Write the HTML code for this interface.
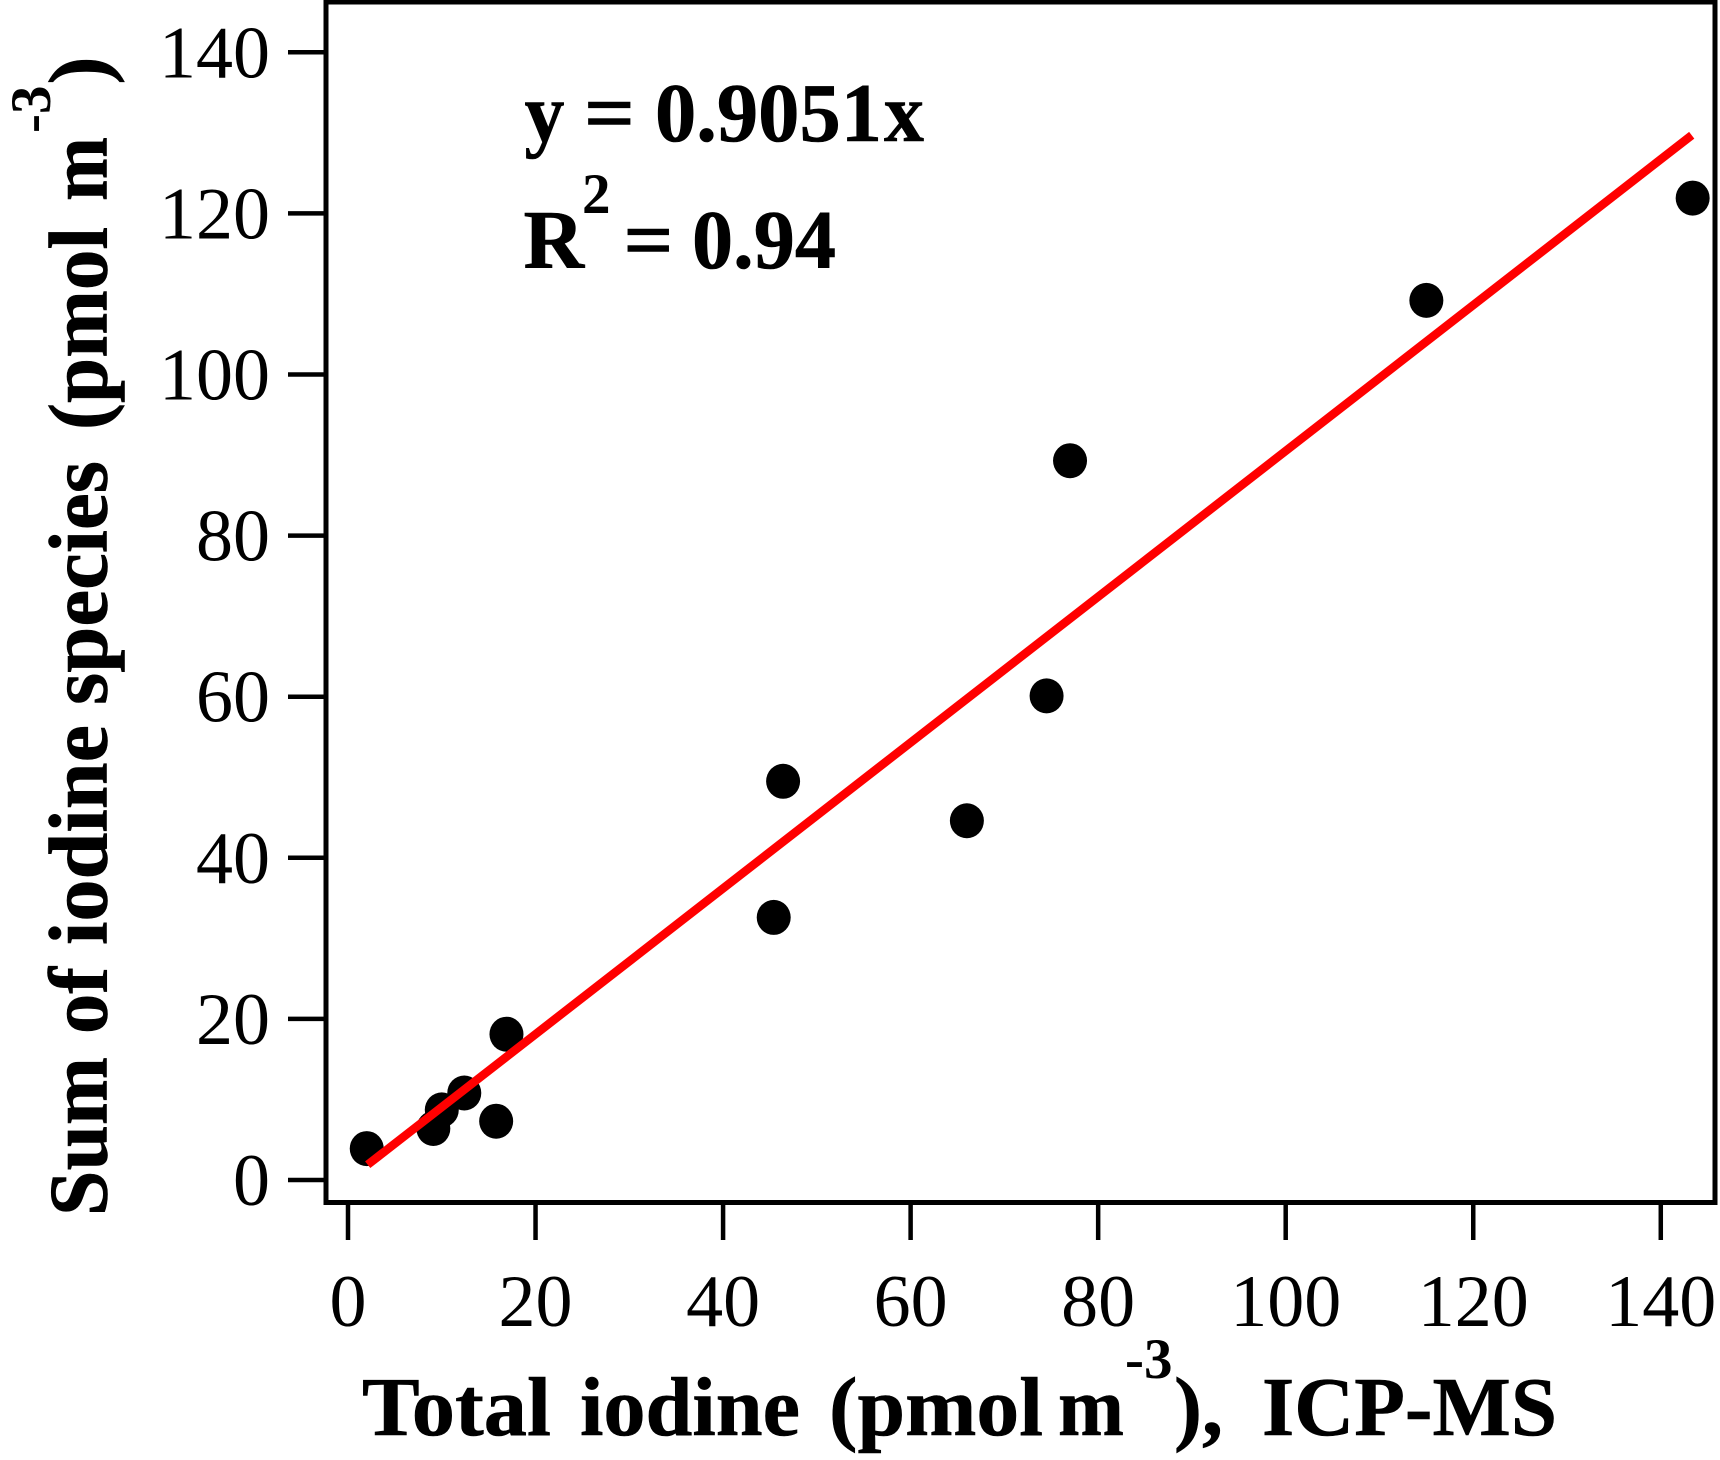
<!DOCTYPE html>
<html lang="en">
<head>
<meta charset="utf-8">
<title>Sum of iodine species vs total iodine</title>
<style>
html,body{margin:0;padding:0;background:#fff;width:1720px;height:1460px;overflow:hidden}
svg{display:block}
text{font-family:"Liberation Serif",serif;fill:#000}
.title{font-weight:bold;font-size:84px;stroke:#000;stroke-width:0.6px}
.sup{font-weight:bold;font-size:57px}
.tick{font-size:74px}
</style>
</head>
<body>
<svg id="chart" xmlns="http://www.w3.org/2000/svg" width="1720" height="1460" viewBox="0 0 1720 1460">
  <rect x="0" y="0" width="1720" height="1460" fill="#fff"/>
  <rect x="326" y="2" width="1389" height="1200.5" fill="none" stroke="#000" stroke-width="5"/>
  <g id="axes"></g>
  <g id="marks"></g>

  <g>
    <text class="title" x="524.5" y="141" textLength="40" lengthAdjust="spacingAndGlyphs">y</text>
    <text class="title" x="584" y="141" textLength="51" lengthAdjust="spacingAndGlyphs">=</text>
    <text class="title" x="655" y="141" textLength="227" lengthAdjust="spacingAndGlyphs">0.9051</text>
    <text class="title" x="884" y="141" textLength="40" lengthAdjust="spacingAndGlyphs">x</text>
  </g>
  <g>
    <text class="title" x="523.5" y="268">R</text>
    <text class="sup" x="582" y="213">2</text>
    <text class="title" x="623.5" y="268" textLength="50" lengthAdjust="spacingAndGlyphs">=</text>
    <text class="title" x="692" y="268" textLength="144" lengthAdjust="spacingAndGlyphs">0.94</text>
  </g>

  <g>
    <text class="title" x="362" y="1435" textLength="189" lengthAdjust="spacingAndGlyphs">Total</text>
    <text class="title" x="580" y="1435" textLength="220" lengthAdjust="spacingAndGlyphs">iodine</text>
    <text class="title" x="829" y="1435" textLength="214" lengthAdjust="spacingAndGlyphs">(pmol</text>
    <text class="title" x="1058" y="1435" textLength="66" lengthAdjust="spacingAndGlyphs">m</text>
    <text class="sup" x="1125" y="1378">-3</text>
    <text class="title" x="1174" y="1435" textLength="49" lengthAdjust="spacingAndGlyphs">),</text>
    <text class="title" x="1262" y="1435" textLength="295" lengthAdjust="spacingAndGlyphs">ICP-MS</text>
  </g>

  <g>
    <text class="title" transform="translate(106.5 1216) rotate(-90)" textLength="159" lengthAdjust="spacingAndGlyphs">Sum</text>
    <text class="title" transform="translate(106.5 1034) rotate(-90)" textLength="67" lengthAdjust="spacingAndGlyphs">of</text>
    <text class="title" transform="translate(106.5 945) rotate(-90)" textLength="220" lengthAdjust="spacingAndGlyphs">iodine</text>
    <text class="title" transform="translate(106.5 705) rotate(-90)" textLength="244" lengthAdjust="spacingAndGlyphs">species</text>
    <text class="title" transform="translate(106.5 430) rotate(-90)" textLength="203" lengthAdjust="spacingAndGlyphs">(pmol</text>
    <text class="title" transform="translate(106.5 201) rotate(-90)" textLength="64" lengthAdjust="spacingAndGlyphs">m</text>
    <text class="sup" transform="translate(50 133) rotate(-90)">-3</text>
    <text class="title" transform="translate(106.5 84.5) rotate(-90)">)</text>
  </g>
</svg>
<script>
const xTickValues = [0, 20, 40, 60, 80, 100, 120, 140];
const yTickValues = [0, 20, 40, 60, 80, 100, 120, 140];
const pointX = [2.0, 9.1, 10.0, 12.4, 15.8, 16.9, 45.4, 46.4, 66.0, 74.5, 77.0, 115.0, 143.4];
const pointY = [3.9, 6.4, 8.7, 10.8, 7.3, 18.1, 32.6, 49.5, 44.6, 60.1, 89.3, 109.2, 121.9];
const fitSlope = 0.9051;
const fitRange = [2.1, 143.3];

const SVG_NS = 'http://www.w3.org/2000/svg';
function xScale(v) { return 348 + v * 9.377; }
function yScale(v) { return 1180 - v * 8.055; }
function make(tag, attrs) {
  const el = document.createElementNS(SVG_NS, tag);
  for (const k in attrs) el.setAttribute(k, attrs[k]);
  return el;
}
const axes = document.getElementById('axes');
const marks = document.getElementById('marks');

xTickValues.forEach(function (v) {
  const px = xScale(v);
  const t = make('line', { x1: px, x2: px, y1: 1202, y2: 1240, stroke: '#000', 'stroke-width': 4.5 });
  
  
  axes.appendChild(t);
  const l = make('text', { x: px, y: 1326, 'text-anchor': 'middle', class: 'tick' });
  
  
  l.textContent = String(v);
  axes.appendChild(l);
});

yTickValues.forEach(function (v) {
  const py = yScale(v);
  const t = make('line', { x1: 288, x2: 326, y1: py, y2: py, stroke: '#000', 'stroke-width': 4.5 });
  
  
  axes.appendChild(t);
  const l = make('text', { x: 270, y: py + 25, 'text-anchor': 'end', class: 'tick' });
  
  
  l.textContent = String(v);
  axes.appendChild(l);
});

pointX.forEach(function (x, i) {
  const c = make('ellipse', { cx: xScale(x), cy: yScale(pointY[i]), rx: 17, ry: 17.5, fill: '#000' });
  
  
  marks.appendChild(c);
});

const fitLine = make('line', {
  x1: xScale(fitRange[0]), y1: yScale(fitRange[0] * fitSlope),
  x2: xScale(fitRange[1]), y2: yScale(fitRange[1] * fitSlope),
  stroke: '#f00', 'stroke-width': 8.5
});


marks.appendChild(fitLine);
</script>
</body>
</html>
